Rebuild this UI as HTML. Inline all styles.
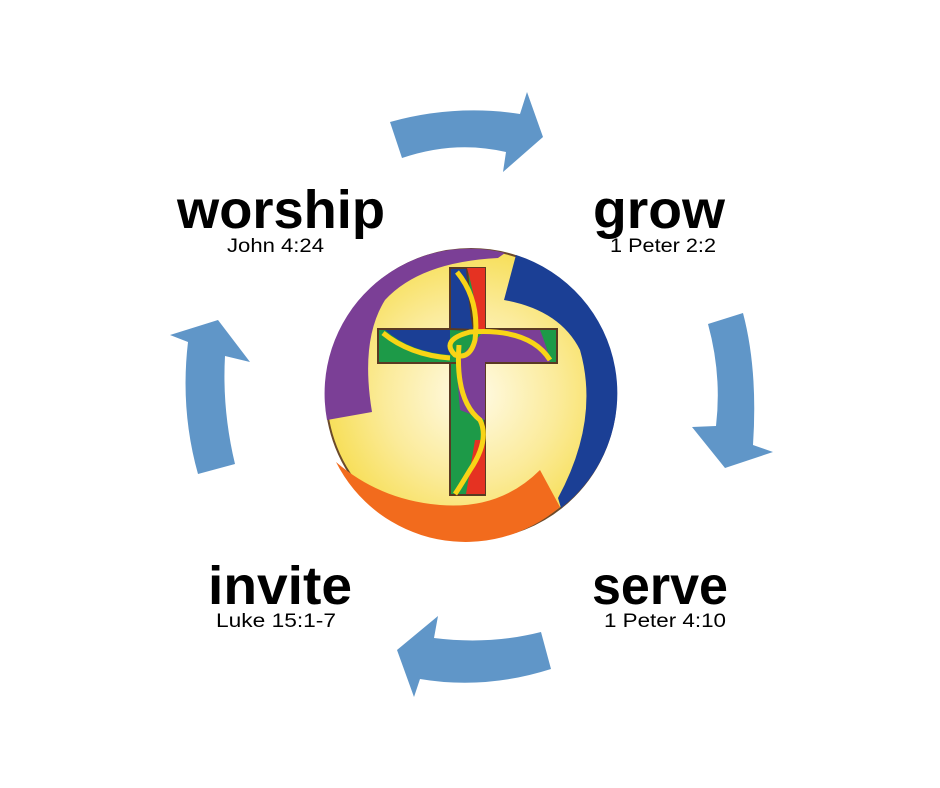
<!DOCTYPE html>
<html><head><meta charset="utf-8"><style>html,body{margin:0;padding:0;background:#fff}svg{display:block}</style></head>
<body>
<svg width="940" height="788" viewBox="0 0 940 788" xmlns="http://www.w3.org/2000/svg">
<defs>
<radialGradient id="g" cx="0.5" cy="0.5" r="0.5">
<stop offset="0" stop-color="#fffbe8"/><stop offset="0.6" stop-color="#fbeb9a"/><stop offset="1" stop-color="#f7df5a"/>
</radialGradient>
</defs>
<g fill="#6096c8">
<path d="M390,122 L402,158 Q455,140 506,152 L503,172 L543,137 L527,92 L520,114 Q455,104 390,122 Z"/>
<path d="M708,324 L743,313 Q758,370 753,445 L773,452 L725,468 L692,427 L716,426 Q722,375 708,324 Z"/>
<path d="M541,632 L551,669 Q485,690 420,679 L414,697 L397,650 L438,616 L434,638 Q490,645 541,632 Z"/>
<path d="M198,474 L235,464 Q222,410 225,356 L250,362 L218,320 L170,335 L188,342 Q180,410 198,474 Z"/>
</g>
<circle cx="471" cy="394" r="145" fill="url(#g)" stroke="#6b4a2a" stroke-width="2"/>
<path d="M327,420 A145,145 0 0 1 505,253 L498,258 Q420,262 385,300 Q360,340 372,412 Z" fill="#7b3f96"/>
<path d="M516,255 A145,145 0 0 1 561,508 L558,498 Q600,420 580,350 Q560,310 504,300 Z" fill="#1b3f95"/>
<path d="M336,462 A145,145 0 0 0 560,507 L540,470 Q500,510 440,505 Q380,500 336,462 Z" fill="#f26b1d"/>
<g stroke="#5a3a22" stroke-width="2">
<rect x="450" y="268" width="35" height="227" fill="#1d9a48"/>
<rect x="378" y="329" width="179" height="34" fill="#1d9a48"/>
<path d="M450,268 L467,268 Q470,310 474,330 L450,329 Z" fill="#1b3f95"/>
<path d="M467,268 L485,268 L485,329 L478,329 Q476,300 467,268 Z" fill="#e53222" stroke="none"/>
<path d="M385,330 L450,330 L450,355 Q410,352 385,330 Z" fill="#1b3f95" stroke="none"/>
<path d="M485,330 L540,330 Q548,350 550,362 L485,362 L485,420 L460,410 L456,362 Z" fill="#7b3f96" stroke="none"/>
<path d="M475,440 L485,440 L485,494 L466,494 Z" fill="#e53222" stroke="none"/>
</g>
<g fill="none" stroke="#f8d416" stroke-width="5">
<path d="M457,272 Q480,300 475,340 Q470,360 455,355 Q440,340 470,332 Q530,328 550,360"/>
<path d="M383,333 Q410,355 450,358"/>
<path d="M459,345 Q455,400 480,420 Q490,440 470,470 Q458,490 455,494"/>
</g>
<g font-family="'Liberation Sans',sans-serif" fill="#000">
<text x="177" y="228" font-size="54" font-weight="bold" textLength="208" lengthAdjust="spacingAndGlyphs">worship</text>
<text x="227" y="252" font-size="19" textLength="97" lengthAdjust="spacingAndGlyphs">John 4:24</text>
<text x="593" y="228" font-size="54" font-weight="bold" textLength="132" lengthAdjust="spacingAndGlyphs">grow</text>
<text x="610" y="252" font-size="19" textLength="106" lengthAdjust="spacingAndGlyphs">1 Peter 2:2</text>
<text x="208" y="604" font-size="54" font-weight="bold" textLength="144" lengthAdjust="spacingAndGlyphs">invite</text>
<text x="216" y="627" font-size="19" textLength="120" lengthAdjust="spacingAndGlyphs">Luke 15:1-7</text>
<text x="592" y="604" font-size="54" font-weight="bold" textLength="136" lengthAdjust="spacingAndGlyphs">serve</text>
<text x="604" y="627" font-size="19" textLength="122" lengthAdjust="spacingAndGlyphs">1 Peter 4:10</text>
</g>
</svg>
</body></html>
